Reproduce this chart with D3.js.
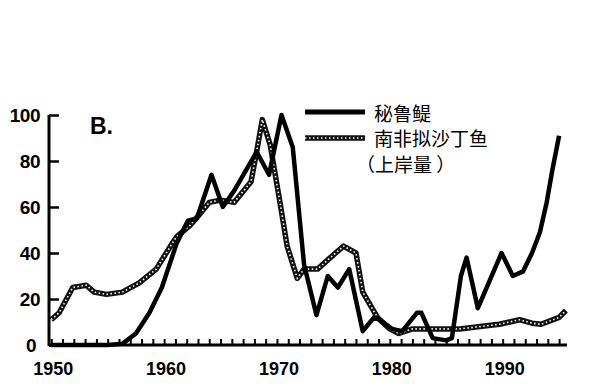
<!DOCTYPE html>
<html><head><meta charset="utf-8">
<script src="https://cdn.jsdelivr.net/npm/d3@7"></script>
<style>body{margin:0;background:#fff} text{text-spacing-trim:space-all}</style>
</head><body>
<script>
// Peruvian anchoveta (秘鲁鳀), % of max landings
const anchovetaYears = [1950,1955,1956.3,1957.5,1958.7,1959.8,1961.1,1962.1,1962.9,1964.2,1965.2,1966.2,1968.2,1969.3,1970.4,1971.4,1972.4,1973.5,1974.5,1975.4,1976.4,1977.6,1978.6,1979.1,1980.2,1981.1,1982.4,1982.8,1983.8,1985,1985.5,1986.3,1986.8,1987.8,1989.9,1990.9,1991.8,1992.6,1993.3,1993.9,1994.4,1995];
const anchovetaValues = [0,0,0.5,5,14,25,44,54,55,74,60,67,84,74,100,86,35,13,30,25,33,6,12,11,7,6,14,14,3,2,3,30,38,16,40,30,32,40,49,62,76,91];
// South African pilchard (南非拟沙丁鱼)
const pilchardYears = [1950,1950.7,1951.9,1953.1,1953.8,1954.9,1956.3,1957.8,1959.3,1960.7,1961.1,1962.3,1963,1964,1965,1966.2,1967.7,1968.2,1968.7,1969.4,1970.3,1970.9,1971.8,1972.4,1973.6,1974.5,1975.9,1977,1977.6,1978.9,1980,1980.8,1982,1983.8,1985,1986.2,1988,1989.7,1991.5,1992.6,1993.4,1995,1995.6];
const pilchardValues = [11,14,25,26,23,22,23,27,33,44,47,52,56,62,63,62,71,84,98,87,61,43,29,33,33,37,43,40,23,12,7,5,7,7,7,7,8,9,11,9.5,9,12,15];
const xTickLabels = [1950,1960,1970,1980,1990];
const yTickLabels = [0,20,40,60,80,100];
const legendLabels = ["秘鲁鳀","南非拟沙丁鱼","（上岸量 ）"];
const panelLabel = "B.";

const W=600,H=390;
const svg=d3.select("body").append("svg").attr("width",W).attr("height",H);
const x=d3.scaleLinear().domain([1949.8,1995.7]).range([49,567]);
const y=d3.scaleLinear().domain([0,100]).range([345,115]);
const numFont='"Liberation Sans Narrow","Liberation Sans",Arial,sans-serif';
const cjk='"Noto Sans CJK SC","Noto Sans",sans-serif';

// x axis: minor yearly ticks pointing up
const xAxis=d3.axisBottom(x).tickValues(d3.range(1950,1996)).tickSize(-6).tickFormat("");
const gx=svg.append("g").attr("transform","translate(0,345)").call(xAxis);
gx.select(".domain").attr("stroke","#000").attr("stroke-width",3).attr("d","M49,0H567");
gx.selectAll(".tick line").attr("stroke","#000").attr("stroke-width",2);
svg.append("g").selectAll("text").data(xTickLabels).join("text")
  .attr("x",d=>x(d)+2).attr("y",375).attr("text-anchor","middle")
  .attr("font-family",numFont).attr("font-weight","bold").attr("font-size",18)
  .text(d=>d);

// y axis: ticks pointing right
const yAxis=d3.axisRight(y).tickValues(yTickLabels).tickSize(10).tickFormat("");
const gy=svg.append("g").attr("transform","translate(49,0)").call(yAxis);
gy.select(".domain").attr("stroke","#000").attr("stroke-width",3).attr("d","M0,115V346");
gy.selectAll(".tick line").attr("stroke","#000").attr("stroke-width",2.5);
svg.append("g").selectAll("text").data(yTickLabels).join("text")
  .attr("x",d=>d===0?36:40).attr("y",d=>y(d)+7).attr("text-anchor","end")
  .attr("font-family",numFont).attr("font-weight","bold").attr("font-size",19)
  .attr("letter-spacing",-0.5)
  .text(d=>d);

svg.append("text").attr("x",90).attr("y",134).attr("font-family",'"Liberation Sans",Arial,sans-serif')
  .attr("font-weight","bold").attr("font-size",23).text(panelLabel);

const line=d3.line().x(d=>x(d[0])).y(d=>y(d[1])).curve(d3.curveLinear);
const anch=anchovetaYears.map((t,i)=>[t,anchovetaValues[i]]);
const pil=pilchardYears.map((t,i)=>[t,pilchardValues[i]]);

// dotted (stippled) series
function stippled(sel,d){
  sel.append("path").attr("d",d).attr("fill","none").attr("stroke","#111").attr("stroke-width",5.5).attr("stroke-linejoin","round");
  sel.append("path").attr("d",d).attr("fill","none").attr("stroke","#fff").attr("stroke-width",1.6).attr("stroke-dasharray","1.5,2.5");
}
stippled(svg.append("g"),line(pil));
svg.append("path").attr("d",line(anch)).attr("fill","none").attr("stroke","#000")
  .attr("stroke-width",4.5).attr("stroke-linejoin","round");

// legend
const lg=svg.append("g");
lg.append("line").attr("x1",305).attr("x2",365).attr("y1",112).attr("y2",112).attr("stroke","#000").attr("stroke-width",5);
stippled(lg,"M305,138H365");
lg.selectAll("text").data(legendLabels).join("text")
  .attr("x",(d,i)=>i===2?356:374).attr("y",(d,i)=>[121,146,172][i])
  .attr("font-family",cjk).attr("font-size",19).attr("xml:space","preserve").text(d=>d);
</script>
</body></html>
